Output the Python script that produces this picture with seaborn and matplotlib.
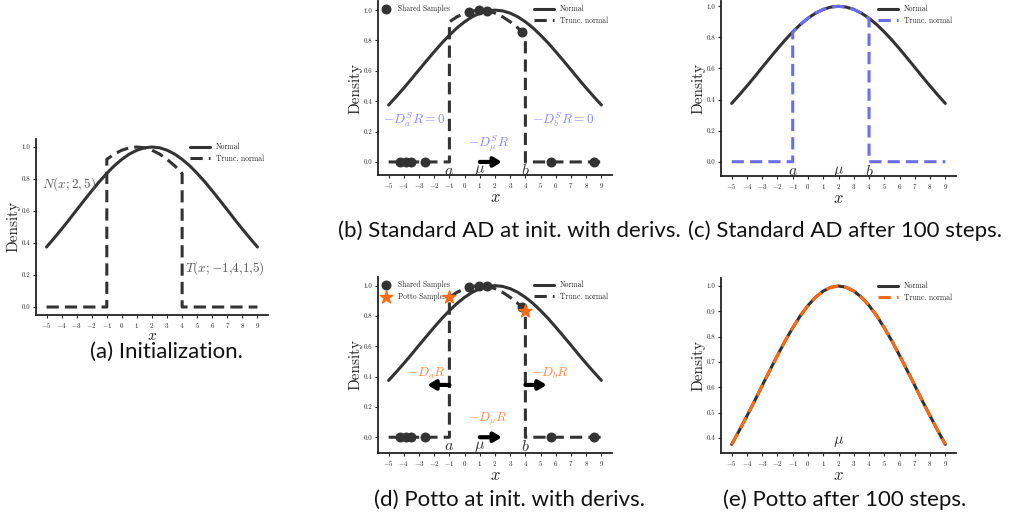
import matplotlib
matplotlib.use('Agg')
import matplotlib.pyplot as plt
import seaborn as sns
import pandas as pd

# values (density, peak scaled to 1)
x_grid = [-5, -4.5, -4, -3.5, -3, -2.5, -2, -1.5, -1, -0.5, 0, 0.5, 1, 1.5, 2,
          2.5, 3, 3.5, 4, 4.5, 5, 5.5, 6, 6.5, 7, 7.5, 8, 8.5, 9]
normal_y = [0.375, 0.430, 0.487, 0.546, 0.607, 0.667, 0.726, 0.783, 0.835, 0.883,
            0.923, 0.956, 0.980, 0.995, 1.0, 0.995, 0.980, 0.956, 0.923, 0.883,
            0.835, 0.783, 0.726, 0.667, 0.607, 0.546, 0.487, 0.430, 0.375]

# truncated normal, inside [a, b] = [-1, 4]
trunc_x = [-5, -1, -1, -0.5, 0, 0.5, 1, 1.5, 2, 2.5, 3, 3.5, 4, 4, 9]
trunc_init_y = [0, 0, 0.923, 0.956, 0.980, 0.995, 1.0, 0.995, 0.980, 0.956, 0.923, 0.883, 0.835, 0, 0]
trunc_std_y = [0, 0, 0.835, 0.883, 0.923, 0.956, 0.980, 0.995, 1.0, 0.995, 0.980, 0.956, 0.923, 0, 0]
potto_final_y = [0.375, 0.430, 0.487, 0.546, 0.607, 0.667, 0.726, 0.783, 0.835, 0.883,
                 0.923, 0.956, 0.980, 0.995, 1.0, 0.995, 0.980, 0.956, 0.923, 0.883,
                 0.835, 0.783, 0.726, 0.667, 0.607, 0.546, 0.487, 0.430, 0.375]

shared_x = [-4.27, -3.83, -3.5, -2.58, 0.28, 0.96, 1.45, 3.76, 5.68, 8.5]
shared_y = [0, 0, 0, 0, 0.99, 1.0, 0.996, 0.859, 0, 0]
potto_x = [-1, 4]
potto_y = [0.923, 0.835]

x_ticks = list(range(-5, 10))

DARK = '#333333'
BLUE = '#6c6cf2'
BLUE_TXT = '#8a8aff'
ORANGE = '#ff6a14'
ORANGE_TXT = '#ff8a4a'

sns.set_style('ticks')
plt.rcParams['font.family'] = 'serif'
plt.rcParams['font.serif'] = ['cmr10']
plt.rcParams['mathtext.fontset'] = 'cm'
plt.rcParams['axes.formatter.use_mathtext'] = True
plt.rcParams['axes.unicode_minus'] = True

W, H = 1013, 523
fig = plt.figure(figsize=(W / 100, H / 100), dpi=100)


def add_ax(l, t, r, b):
    return fig.add_axes([l / W, 1 - b / H, (r - l) / W, (b - t) / H])


def base(ax, ylim, yticks, xpad=0, xsize=12):
    ax.set_xlim(-5.7, 9.7)
    ax.set_ylim(*ylim)
    ax.set_xticks(x_ticks)
    ax.set_xticklabels([f'${t}$' if t >= 0 else f'$-{-t}$' for t in x_ticks])
    ax.set_yticks(yticks)
    ax.set_yticklabels([f'{v:.1f}' for v in yticks])
    ax.tick_params(labelsize=5, length=2.5, width=0.8, pad=1.5)
    for s in ['left', 'bottom']:
        ax.spines[s].set_linewidth(1.3)
        ax.spines[s].set_color('#222222')
    sns.despine(ax=ax)
    ax.set_xlabel('$x$', fontsize=xsize, labelpad=xpad)
    ax.set_ylabel('Density', fontsize=11, labelpad=1)


def curves(ax, trunc_y, tcolor, tx=trunc_x):
    sns.lineplot(x=x_grid, y=normal_y, ax=ax, color=DARK, lw=2.2, label='Normal',
                 sort=False, estimator=None)
    sns.lineplot(x=tx, y=trunc_y, ax=ax, color=tcolor, lw=2.2, label='Trunc. normal',
                 sort=False, estimator=None, linestyle=(0, (4, 2)))
    leg = ax.legend(loc='upper right', fontsize=5.5, frameon=False, handlelength=2.6,
                    borderaxespad=0.1, labelspacing=0.45)
    return leg


def arrow(ax, x0, x1, y):
    ax.annotate('', xy=(x1, y), xytext=(x0, y), zorder=6,
                arrowprops=dict(arrowstyle='-|>,head_length=0.5,head_width=0.3',
                                color='black', lw=3, shrinkA=0, shrinkB=0,
                                mutation_scale=9))


def samples(ax, with_potto=False):
    df = pd.DataFrame({'x': shared_x, 'y': shared_y})
    h1 = ax.scatter(df.x, df.y, s=38, color=DARK, zorder=5, label='Shared Samples')
    handles = [h1]
    if with_potto:
        h2 = ax.scatter(potto_x, potto_y, s=90, marker='*', color=ORANGE, zorder=7,
                        label='Potto Samples')
        handles.append(h2)
    leg = ax.legend(handles=handles, loc='upper left', fontsize=5.5, frameon=False,
                    borderaxespad=0.1, handlelength=1.0, handletextpad=1.1,
                    labelspacing=0.45)
    return leg


def abmu(ax, labels, y):
    for xv, t in labels:
        ax.text(xv, y, t, fontsize=11.5, ha='center', va='center', color='#333333')


def note(ax, x, y, t, color):
    ax.text(x, y, t, fontsize=9.5, color=color, ha='center', va='center')


# (a)
ax_a = add_ax(36, 139, 268, 315)
curves(ax_a, trunc_init_y, DARK)
base(ax_a, (-0.05, 1.05), [0, 0.2, 0.4, 0.6, 0.8, 1.0], xpad=-0.5, xsize=11)
note(ax_a, -3.5, 0.77, '$N(x;2,5)$', '#555555')
note(ax_a, 6.85, 0.24, '$T(x;{-}1{,}4{,}1{,}5)$', '#555555')

# (b)
ax_b = add_ax(378, 1, 612, 175)
leg = curves(ax_b, trunc_init_y, DARK)
ax_b.add_artist(leg)
samples(ax_b)
base(ax_b, (-0.086, 1.06), [0, 0.2, 0.4, 0.6, 0.8, 1.0])
arrow(ax_b, 1.0, 2.45, 0)
abmu(ax_b, [(-1, '$a$'), (1, r'$\mu$'), (4, '$b$')], -0.058)
note(ax_b, -3.3, 0.276, '$-D_a^S R = 0$', BLUE_TXT)
note(ax_b, 6.45, 0.276, '$-D_b^S R = 0$', BLUE_TXT)
note(ax_b, 1.55, 0.118, r'$-D_\mu^S R$', BLUE_TXT)

# (c)
ax_c = add_ax(721, 1, 956, 176)
curves(ax_c, trunc_std_y, BLUE)
base(ax_c, (-0.092, 1.034), [0, 0.2, 0.4, 0.6, 0.8, 1.0])
abmu(ax_c, [(-1, '$a$'), (2, r'$\mu$'), (4, '$b$')], -0.06)

# (d)
ax_d = add_ax(378, 277, 612, 453)
leg = curves(ax_d, trunc_init_y, DARK)
ax_d.add_artist(leg)
samples(ax_d, with_potto=True)
base(ax_d, (-0.104, 1.057), [0, 0.2, 0.4, 0.6, 0.8, 1.0])
arrow(ax_d, 1.0, 2.45, 0)
arrow(ax_d, -1.0, -2.45, 0.345)
arrow(ax_d, 4.0, 5.4, 0.345)
abmu(ax_d, [(-1, '$a$'), (1, r'$\mu$'), (4, '$b$')], -0.06)
note(ax_d, -2.5, 0.42, '$-D_a R$', ORANGE_TXT)
note(ax_d, 5.65, 0.42, '$-D_b R$', ORANGE_TXT)
note(ax_d, 1.55, 0.12, r'$-D_\mu R$', ORANGE_TXT)

# (e)
ax_e = add_ax(721, 278, 956, 453)
curves(ax_e, potto_final_y, ORANGE, tx=x_grid)
base(ax_e, (0.3408, 1.0316), [0.4, 0.5, 0.6, 0.7, 0.8, 0.9, 1.0])
abmu(ax_e, [(2, r'$\mu$')], 0.385)

# captions
cap = dict(fontsize=16, family='Lato', ha='center', va='center', color='#111111')
fig.text(166 / W, 1 - 352 / H, '(a) Initialization.', **cap)
fig.text(509 / W, 1 - 231 / H, '(b) Standard AD at init. with derivs.', **cap)
fig.text(845 / W, 1 - 231 / H, '(c) Standard AD after 100 steps.', **cap)
fig.text(509 / W, 1 - 500 / H, '(d) Potto at init. with derivs.', **cap)
fig.text(845 / W, 1 - 500 / H, '(e) Potto after 100 steps.', **cap)

fig.savefig('out.png', dpi=100)
